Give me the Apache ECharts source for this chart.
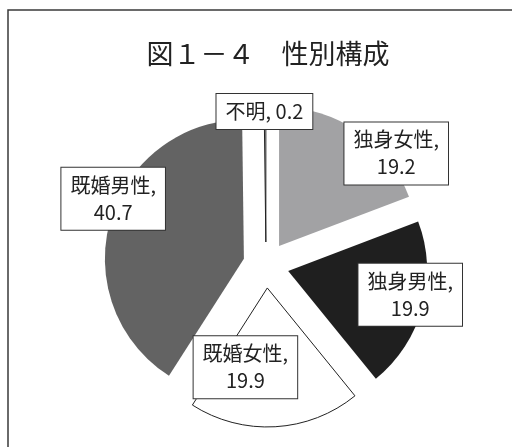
<!DOCTYPE html>
<html><head><meta charset="utf-8">
<script src="https://cdn.jsdelivr.net/npm/echarts@6/dist/echarts.min.js"></script>
<style>html,body{margin:0;padding:0;background:#fff;}#c{width:512px;height:447px;}</style>
</head><body><div id="c"></div>
<script>
const titleText = '図１－４　性別構成';
const categories = ['独身女性', '独身男性', '既婚女性', '既婚男性', '不明'];
const values = [19.2, 19.9, 19.9, 40.7, 0.2];
const colors = ['#a2a2a4', '#1f1f1f', '#ffffff', '#636363', '#ffffff'];
const borders = [0, 0, 1, 0, 1];
const twoLine = [true, true, true, true, false];
const labelShift = [[76, -33], [52, 5], [-26, 7], [-61, -40], [-1, -58]];

const chart = echarts.init(document.getElementById('c'), null, {renderer: 'canvas'});
const font = '"Noto Sans CJK JP", "Noto Sans", sans-serif';
chart.setOption({
  animation: false,
  backgroundColor: '#ffffff',
  title: {
    text: titleText, left: 263, top: 35, textAlign: 'center',
    textStyle: {fontFamily: font, fontSize: 27, fontWeight: 'normal', color: '#222'}
  },
  graphic: [{
    type: 'rect', shape: {x: 8, y: 10, width: 530, height: 460},
    style: {fill: 'none', stroke: '#3a3a3a', lineWidth: 1.5}, silent: true
  }],
  series: [{
    type: 'pie',
    center: [266, 265],
    radius: 139,
    startAngle: 90,
    clockwise: true,
    selectedMode: 'multiple',
    selectedOffset: 23,
    avoidLabelOverlap: false,
    emphasis: {disabled: true},
    label: {
      show: true, position: 'inside',
      fontFamily: font, fontSize: 20, lineHeight: 27, color: '#222',
      backgroundColor: '#fff', borderColor: '#333', borderWidth: 1,
      padding: [4, 9, 4, 9],
      formatter: p => twoLine[p.dataIndex] ? p.name + ',\n' + p.value : p.name + ', ' + p.value
    },
    labelLine: {show: false},
    labelLayout: p => ({dx: labelShift[p.dataIndex][0], dy: labelShift[p.dataIndex][1]}),
    data: categories.map((c, i) => ({
      name: c, value: values[i], selected: true,
      itemStyle: {color: colors[i], borderColor: '#222', borderWidth: borders[i]},
      select: {itemStyle: {color: colors[i], borderColor: '#222', borderWidth: borders[i]}}
    }))
  }]
});
</script></body></html>
